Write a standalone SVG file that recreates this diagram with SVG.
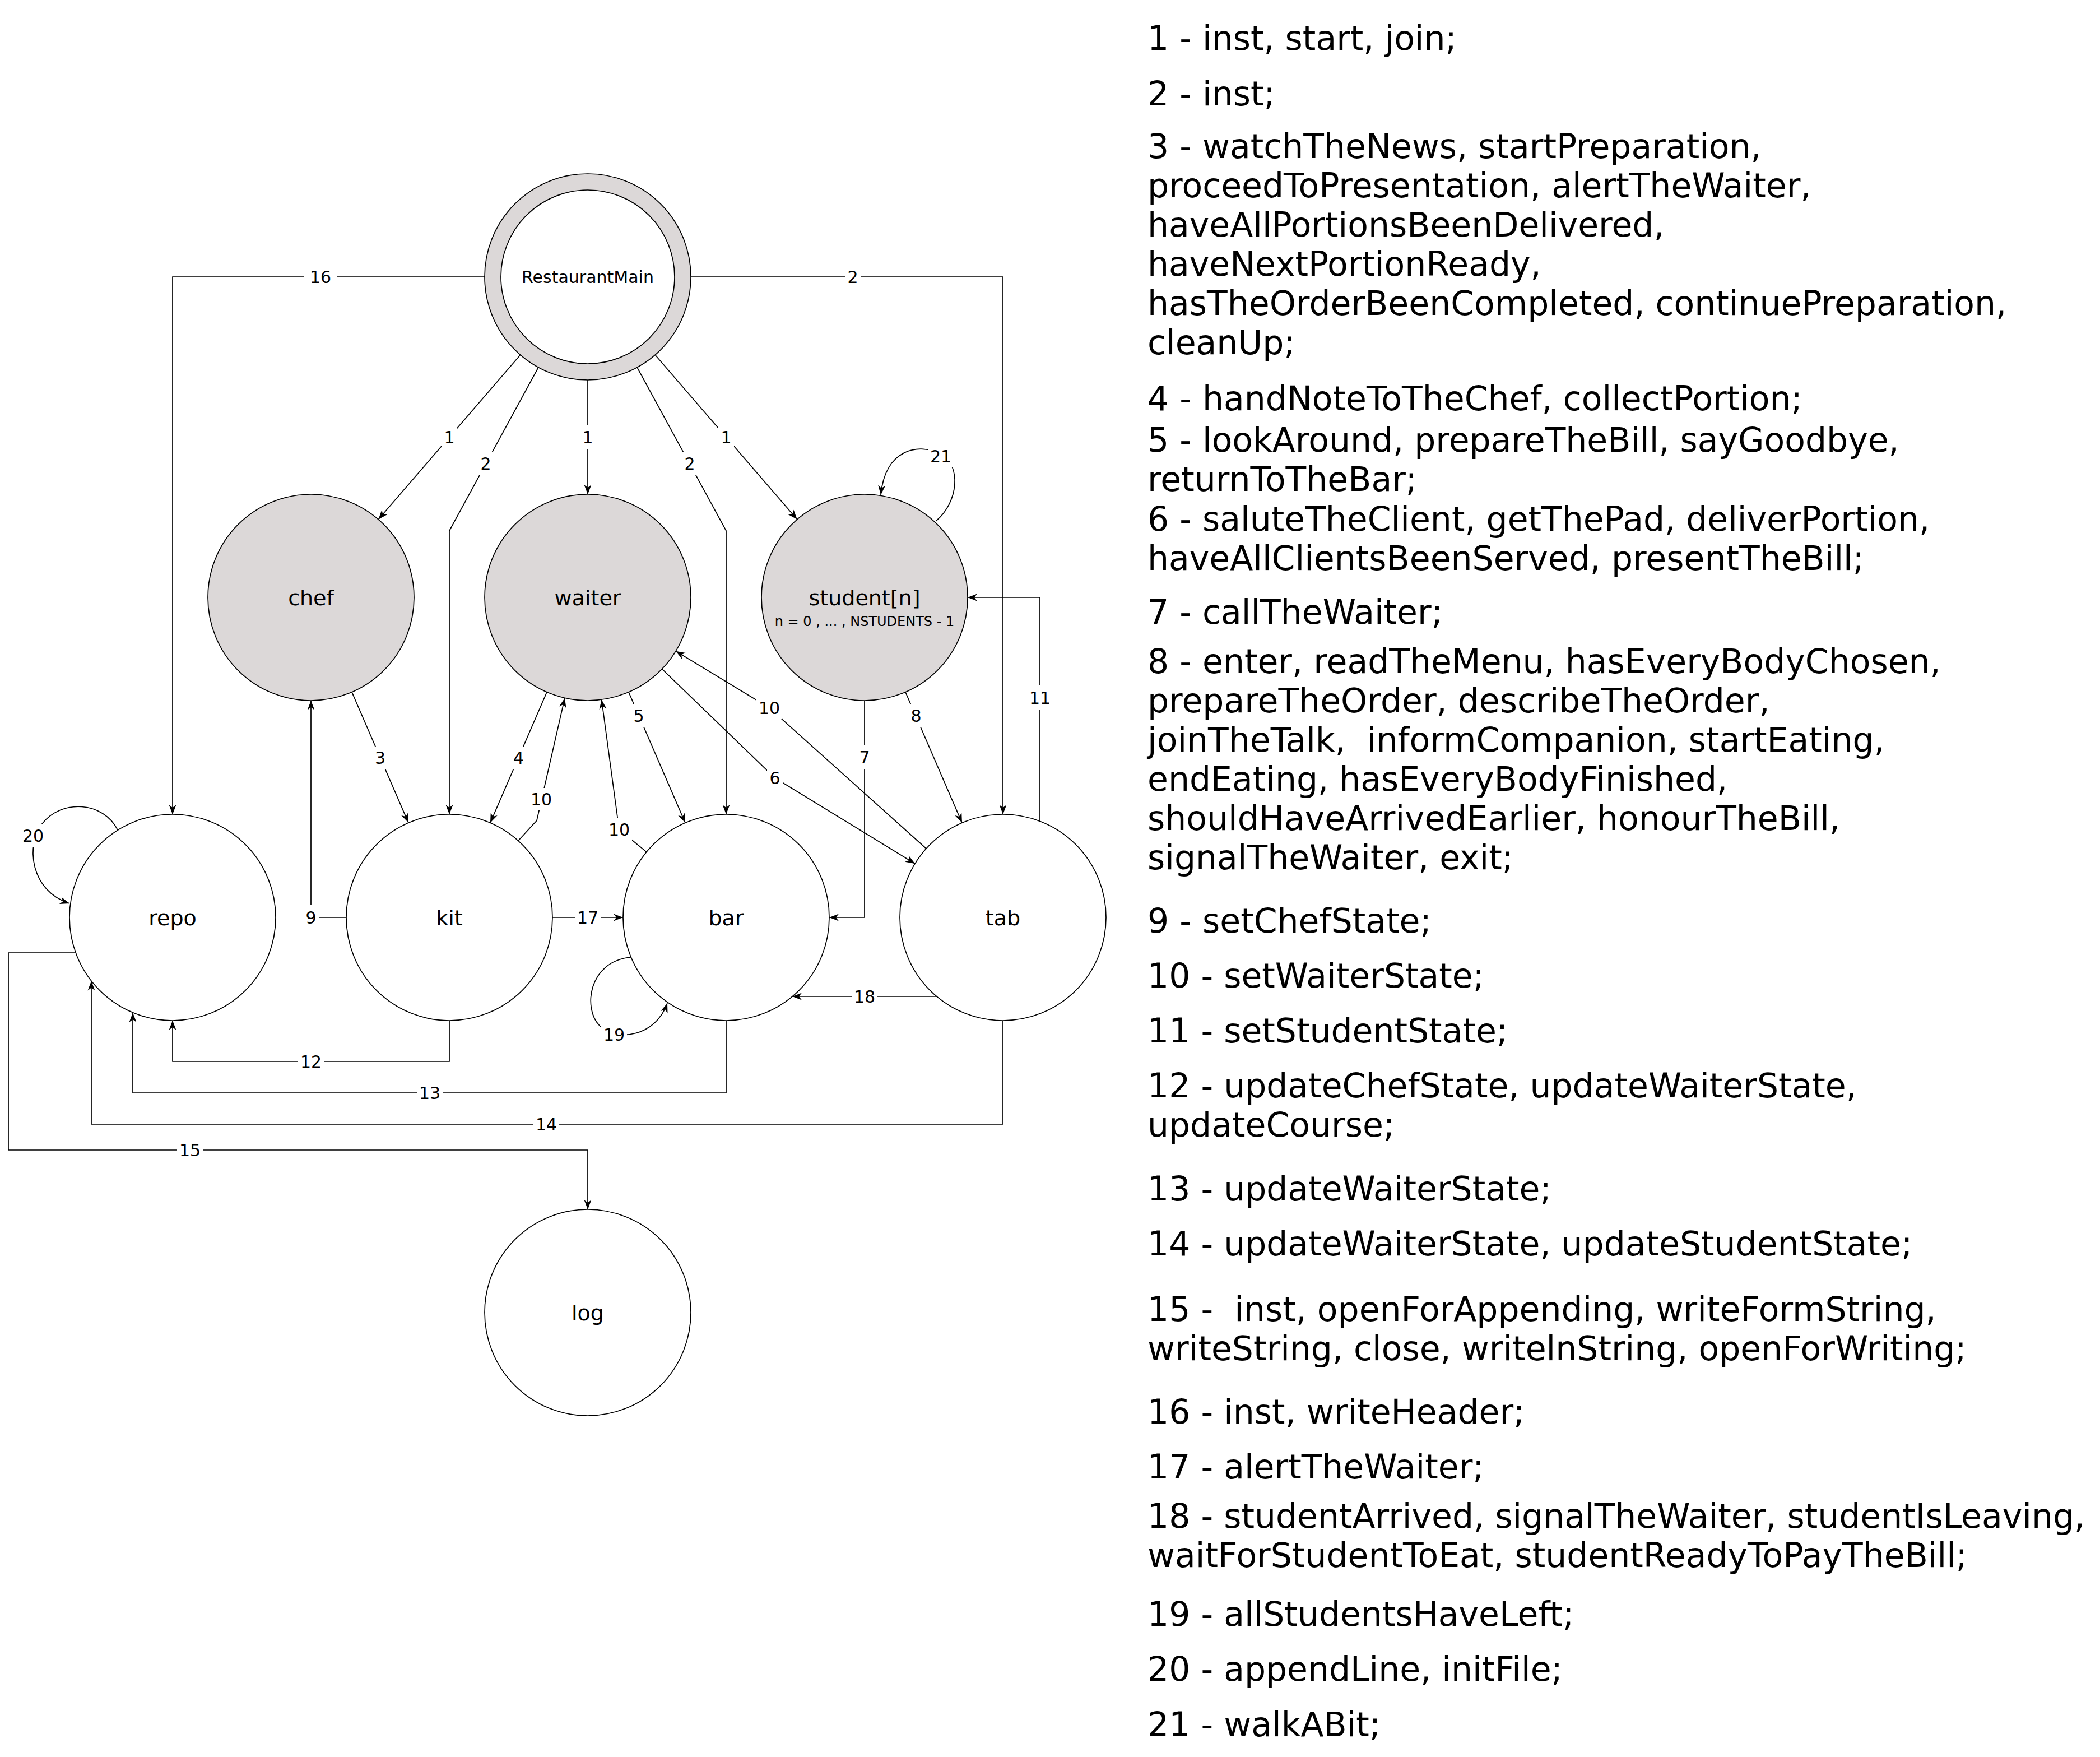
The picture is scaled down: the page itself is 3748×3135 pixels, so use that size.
<svg xmlns="http://www.w3.org/2000/svg" width="3748" height="3135" viewBox="0 0 3748 3135">
<defs>
<style>
.node{stroke:#000;stroke-width:1.7}
.grey{fill:#dcd8d8}
.white{fill:#fff}
.nlabel{font-family:"DejaVu Sans",sans-serif;font-size:38px;text-anchor:middle;fill:#000}
.sub{font-family:"DejaVu Sans",sans-serif;font-size:24px;text-anchor:middle;fill:#000}
.edge{fill:none;stroke:#000;stroke-width:1.7}
.arr{marker-end:url(#arrow)}
.lbg{fill:#fff}
.elabel{font-family:"DejaVu Sans",sans-serif;font-size:30px;text-anchor:middle;fill:#000}
.legend text{font-family:"DejaVu Sans",sans-serif;font-size:60px;fill:#000;white-space:pre}
</style>
<marker id="arrow" viewBox="-18 -8 20 16" refX="0" refY="0" markerWidth="20" markerHeight="16" markerUnits="userSpaceOnUse" orient="auto">
<path d="M0,0 L-17,-6.5 L-12,0 L-17,6.5 Z" fill="#000"/>
</marker>
</defs>
<rect width="3748" height="3135" fill="#fff"/>

<!-- nodes -->
<g id="nodes">
<g id="RestaurantMain">
<circle class="node grey" cx="1049" cy="494" r="184"/>
<circle class="node white" cx="1049" cy="494" r="155"/>
<text x="1049" y="504.5" class="nlabel" style="font-size:30px">RestaurantMain</text>
</g>
<g id="chef"><circle class="node grey" cx="555" cy="1066" r="184"/><text x="555" y="1079.5" class="nlabel">chef</text></g>
<g id="waiter"><circle class="node grey" cx="1049" cy="1066" r="184"/><text x="1049" y="1079.5" class="nlabel">waiter</text></g>
<g id="student"><circle class="node grey" cx="1543" cy="1066" r="184"/><text x="1543" y="1079.5" class="nlabel">student[n]</text><text x="1543" y="1117" class="sub">n = 0 , ... , NSTUDENTS - 1</text></g>
<g id="repo"><circle class="node white" cx="308" cy="1637" r="184"/><text x="308" y="1650.5" class="nlabel">repo</text></g>
<g id="kit"><circle class="node white" cx="802" cy="1637" r="184"/><text x="802" y="1650.5" class="nlabel">kit</text></g>
<g id="bar"><circle class="node white" cx="1296" cy="1637" r="184"/><text x="1296" y="1650.5" class="nlabel">bar</text></g>
<g id="tab"><circle class="node white" cx="1790" cy="1637" r="184"/><text x="1790" y="1650.5" class="nlabel">tab</text></g>
<g id="log"><circle class="node white" cx="1049" cy="2342" r="184"/><text x="1049" y="2355.5" class="nlabel">log</text></g>
</g>

<!-- connectors: lines first, then their number labels on white plates -->
<g id="connectors">
<g id="edge-lines">
<path class="edge arr" d="M865,494 H308 V1453"/>
<path class="edge arr" d="M1233,494 H1790 V1453"/>
<path class="edge arr" d="M928.7,633.3 L675.3,926.7"/>
<path class="edge arr" d="M1169.3,633.3 L1422.7,926.7"/>
<path class="edge arr" d="M1049,678 V882"/>
<path class="edge arr" d="M960.9,655.5 L802,947 V1453"/>
<path class="edge arr" d="M1137.1,655.5 L1296,947 V1453"/>
<path class="edge arr" d="M1670,930 C1712,895 1715,830 1680,810 C1640,790 1580,800 1572,883"/>
<path class="edge arr" d="M628,1234.9 L729,1468.1"/>
<path class="edge arr" d="M976,1234.9 L875,1468.1"/>
<path class="edge arr" d="M925,1500 L958,1464 L1008,1245.4"/>
<path class="edge arr" d="M1122,1234.9 L1223,1468.1"/>
<path class="edge arr" d="M1153.8,1520.1 L1105,1480 L1073.7,1248.3"/>
<path class="edge arr" d="M1181.5,1193.7 L1383,1388 L1633,1541"/>
<path class="edge arr" d="M1653,1514 L1373,1263 L1206,1161.7"/>
<path class="edge arr" d="M1543,1250 V1637 H1480"/>
<path class="edge arr" d="M1616,1234.9 L1717,1468.1"/>
<path class="edge arr" d="M1856,1465.2 V1066 H1727"/>
<path class="edge arr" d="M618,1637 H555 V1250"/>
<path class="edge arr" d="M986,1637 H1112"/>
<path class="edge arr" d="M1672,1778 H1414"/>
<path class="edge arr" d="M1126,1708 C1050,1715 1040,1800 1070,1830 C1100,1860 1170,1850 1191,1790"/>
<path class="edge arr" d="M210,1481 C185,1430 110,1425 75,1470 C45,1510 55,1590 124,1612"/>
<path class="edge arr" d="M802,1821 V1894 H308 V1821"/>
<path class="edge arr" d="M1296,1821 V1950 H237 V1807"/>
<path class="edge arr" d="M1790,1821 V2006 H163 V1750.5"/>
<path class="edge arr" d="M135,1700 H15 V2052 H1049 V2158"/>
</g>
<g id="edge-labels">
<rect class="lbg" x="542" y="474" width="60" height="40"/><text class="elabel" x="572" y="504.5">16</text>
<rect class="lbg" x="1508" y="474" width="28" height="40"/><text class="elabel" x="1522" y="504.5">2</text>
<rect class="lbg" x="788" y="760" width="28" height="40"/><text class="elabel" x="802" y="790.5">1</text>
<rect class="lbg" x="853" y="807" width="28" height="40"/><text class="elabel" x="867" y="837.5">2</text>
<rect class="lbg" x="1035" y="758" width="28" height="44"/><text class="elabel" x="1049" y="790.5">1</text>
<rect class="lbg" x="1217" y="807" width="28" height="40"/><text class="elabel" x="1231" y="837.5">2</text>
<rect class="lbg" x="1282" y="760" width="28" height="40"/><text class="elabel" x="1296" y="790.5">1</text>
<rect class="lbg" x="1656" y="794" width="46" height="40"/><text class="elabel" x="1679" y="824.5">21</text>
<rect class="lbg" x="664.5" y="1332" width="28" height="40"/><text class="elabel" x="678.5" y="1362.5">3</text>
<rect class="lbg" x="911.5" y="1332" width="28" height="40"/><text class="elabel" x="925.5" y="1362.5">4</text>
<rect class="lbg" x="943" y="1406" width="46" height="40"/><text class="elabel" x="966" y="1436.5">10</text>
<rect class="lbg" x="1126" y="1257" width="28" height="40"/><text class="elabel" x="1140" y="1287.5">5</text>
<rect class="lbg" x="1082" y="1460" width="46" height="40"/><text class="elabel" x="1105" y="1490.5">10</text>
<rect class="lbg" x="1369" y="1368" width="28" height="40"/><text class="elabel" x="1383" y="1398.5">6</text>
<rect class="lbg" x="1350" y="1243" width="46" height="40"/><text class="elabel" x="1373" y="1273.5">10</text>
<rect class="lbg" x="1529" y="1330" width="28" height="42"/><text class="elabel" x="1543" y="1361.5">7</text>
<rect class="lbg" x="1621" y="1257" width="28" height="40"/><text class="elabel" x="1635" y="1287.5">8</text>
<rect class="lbg" x="1833" y="1223" width="46" height="44"/><text class="elabel" x="1856" y="1255.5">11</text>
<rect class="lbg" x="541" y="1615" width="28" height="44"/><text class="elabel" x="555" y="1647.5">9</text>
<rect class="lbg" x="1026" y="1617" width="46" height="40"/><text class="elabel" x="1049" y="1647.5">17</text>
<rect class="lbg" x="1520" y="1758" width="46" height="40"/><text class="elabel" x="1543" y="1788.5">18</text>
<rect class="lbg" x="1073" y="1826" width="46" height="40"/><text class="elabel" x="1096" y="1856.5">19</text>
<rect class="lbg" x="36" y="1471" width="46" height="40"/><text class="elabel" x="59" y="1501.5">20</text>
<rect class="lbg" x="532" y="1874" width="46" height="40"/><text class="elabel" x="555" y="1904.5">12</text>
<rect class="lbg" x="744" y="1930" width="46" height="40"/><text class="elabel" x="767" y="1960.5">13</text>
<rect class="lbg" x="952" y="1986" width="46" height="40"/><text class="elabel" x="975" y="2016.5">14</text>
<rect class="lbg" x="316" y="2032" width="46" height="40"/><text class="elabel" x="339" y="2062.5">15</text>
</g>
</g>

<!-- method legend -->
<g id="legend" class="legend">
<text x="2048" y="89">1 - inst, start, join;</text>
<text x="2048" y="188">2 - inst;</text>
<text><tspan x="2048" y="282">3 - watchTheNews, startPreparation,</tspan><tspan x="2048" y="352">proceedToPresentation, alertTheWaiter,</tspan><tspan x="2048" y="422">haveAllPortionsBeenDelivered,</tspan><tspan x="2048" y="492">haveNextPortionReady,</tspan><tspan x="2048" y="562">hasTheOrderBeenCompleted, continuePreparation,</tspan><tspan x="2048" y="632">cleanUp;</tspan></text>
<text x="2048" y="732">4 - handNoteToTheChef, collectPortion;</text>
<text><tspan x="2048" y="806">5 - lookAround, prepareTheBill, sayGoodbye,</tspan><tspan x="2048" y="876">returnToTheBar;</tspan></text>
<text><tspan x="2048" y="947">6 - saluteTheClient, getThePad, deliverPortion,</tspan><tspan x="2048" y="1017">haveAllClientsBeenServed, presentTheBill;</tspan></text>
<text x="2048" y="1113">7 - callTheWaiter;</text>
<text><tspan x="2048" y="1201">8 - enter, readTheMenu, hasEveryBodyChosen,</tspan><tspan x="2048" y="1271">prepareTheOrder, describeTheOrder,</tspan><tspan x="2048" y="1341">joinTheTalk,  informCompanion, startEating,</tspan><tspan x="2048" y="1411">endEating, hasEveryBodyFinished,</tspan><tspan x="2048" y="1481">shouldHaveArrivedEarlier, honourTheBill,</tspan><tspan x="2048" y="1551">signalTheWaiter, exit;</tspan></text>
<text x="2048" y="1664">9 - setChefState;</text>
<text x="2048" y="1762">10 - setWaiterState;</text>
<text x="2048" y="1860">11 - setStudentState;</text>
<text><tspan x="2048" y="1958">12 - updateChefState, updateWaiterState,</tspan><tspan x="2048" y="2028">updateCourse;</tspan></text>
<text x="2048" y="2142">13 - updateWaiterState;</text>
<text x="2048" y="2240">14 - updateWaiterState, updateStudentState;</text>
<text><tspan x="2048" y="2357">15 -  inst, openForAppending, writeFormString,</tspan><tspan x="2048" y="2427">writeString, close, writelnString, openForWriting;</tspan></text>
<text x="2048" y="2540">16 - inst, writeHeader;</text>
<text x="2048" y="2638">17 - alertTheWaiter;</text>
<text><tspan x="2048" y="2726">18 - studentArrived, signalTheWaiter, studentIsLeaving,</tspan><tspan x="2048" y="2796">waitForStudentToEat, studentReadyToPayTheBill;</tspan></text>
<text x="2048" y="2901">19 - allStudentsHaveLeft;</text>
<text x="2048" y="2999">20 - appendLine, initFile;</text>
<text x="2048" y="3098">21 - walkABit;</text>
</g>
</svg>
